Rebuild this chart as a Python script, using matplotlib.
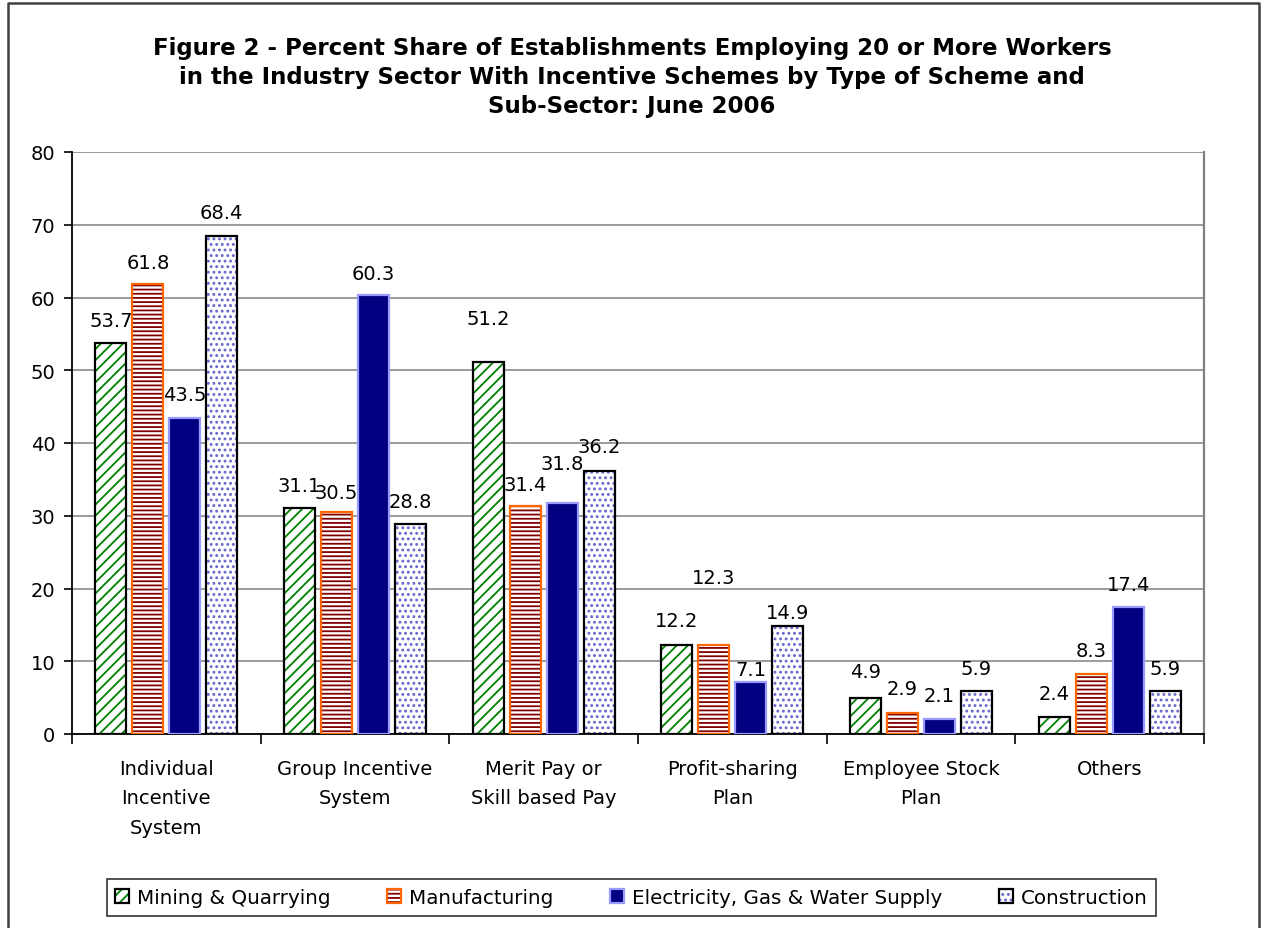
import matplotlib
matplotlib.use('Agg')
import matplotlib.pyplot as plt
import numpy as np
from matplotlib.lines import Line2D
from matplotlib.patches import Patch
from matplotlib.legend_handler import HandlerTuple

W, H = 1264, 929

categories = [
    'Individual\nIncentive\nSystem',
    'Group Incentive\nSystem',
    'Merit Pay or\nSkill based Pay',
    'Profit-sharing\nPlan',
    'Employee Stock\nPlan',
    'Others',
]
series_names = ['Mining & Quarrying', 'Manufacturing',
                'Electricity, Gas & Water Supply', 'Construction']
mining = [53.7, 31.1, 51.2, 12.2, 4.9, 2.4]
manufacturing = [61.8, 30.5, 31.4, 12.3, 2.9, 8.3]
electricity = [43.5, 60.3, 31.8, 7.1, 2.1, 17.4]
construction = [68.4, 28.8, 36.2, 14.9, 5.9, 5.9]
y_ticks = [0, 10, 20, 30, 40, 50, 60, 70, 80]

# label offsets above bar top (pixels), per series, as placed in the original
label_offsets = [
    [23, 22, 43, 25, 27, 23],
    [22, 20, 21, 67, 24, 23],
    [23, 22, 39, 13, 23, 23],
    [24, 23, 24, 13, 23, 23],
]

styles = [
    dict(face='white', hatch='///', hatch_col='#008000', edge='black'),
    dict(face='white', hatch='----', hatch_col='#800000', edge='#FF6600'),
    dict(face='#000080', hatch=None, hatch_col=None, edge='#9999FF'),
    dict(face='white', hatch='...', hatch_col='#6666CC', edge='black'),
]

plt.rcParams['font.family'] = ['DejaVu Sans']
plt.rcParams['hatch.linewidth'] = 1.3

fig = plt.figure(figsize=(W / 100, H / 100), dpi=100)
ax = fig.add_axes([72 / W, 1 - 735 / H, (1204 - 72) / W, (735 - 153) / H])

x = np.arange(len(categories))
step = 0.196
width = 0.164
data = [mining, manufacturing, electricity, construction]

handles = []
for i, (vals, st) in enumerate(zip(data, styles)):
    pos = x + (i - 1.5) * step
    if st['hatch']:
        ax.bar(pos, vals, width, color=st['face'], edgecolor=st['hatch_col'],
               hatch=st['hatch'], linewidth=0, zorder=3)
        ax.bar(pos, vals, width, fill=False, edgecolor=st['edge'],
               linewidth=1.6, zorder=4)
        h = (Patch(facecolor=st['face'], edgecolor=st['hatch_col'], hatch=st['hatch'], linewidth=0),
             Patch(fill=False, edgecolor=st['edge'], linewidth=1.6))
    else:
        ax.bar(pos, vals, width, color=st['face'], edgecolor=st['edge'],
               linewidth=1.6, zorder=4)
        h = (Patch(facecolor=st['face'], edgecolor=st['edge'], linewidth=1.6),)
    handles.append(h)
    for xp, v, off in zip(pos, vals, label_offsets[i]):
        ax.annotate(f'{v}', xy=(xp, v), xytext=(0, off), textcoords='offset pixels',
                    ha='center', va='center', fontsize=14, zorder=6)

ax.set_xlim(-0.5, len(categories) - 0.5)
ax.set_ylim(0, 80)
ax.set_yticks(y_ticks)
ax.set_yticklabels([str(t) for t in y_ticks], fontsize=14)
ax.yaxis.grid(True, color='#808080', linewidth=1.1, zorder=0)
ax.set_axisbelow(True)

ax.set_xticks(np.arange(len(categories) + 1) - 0.5)
ax.set_xticklabels([])
ax.set_xticks(x, minor=True)
ax.set_xticklabels(categories, minor=True, fontsize=14, linespacing=1.7, va='top')
ax.tick_params(axis='x', which='minor', length=0, pad=18)
ax.tick_params(axis='x', which='major', length=7, width=1.2, direction='out')
ax.tick_params(axis='y', length=6, width=1.2, direction='out', pad=6)

for side in ['left', 'bottom']:
    ax.spines[side].set_color('black')
    ax.spines[side].set_linewidth(1.3)
ax.spines['top'].set_visible(False)
ax.spines['right'].set_color('#808080')
ax.spines['right'].set_linewidth(1.6)

fig.text(0.5, 1 - 37 / H,
         'Figure 2 - Percent Share of Establishments Employing 20 or More Workers\n'
         'in the Industry Sector With Incentive Schemes by Type of Scheme and\n'
         'Sub-Sector: June 2006',
         ha='center', va='top', fontsize=16.5, fontweight='bold', linespacing=1.34,
         transform=fig.transFigure)

leg = fig.legend(handles, series_names, loc='center',
                 bbox_to_anchor=(631.5 / W, 1 - 898.5 / H),
                 ncol=4, fontsize=14.3, frameon=True, fancybox=False,
                 edgecolor='black', handlelength=0.7, handleheight=0.7,
                 handletextpad=0.4, columnspacing=2.85, borderpad=0.45,
                 handler_map={tuple: HandlerTuple(ndivide=1, pad=0)})
leg.get_frame().set_linewidth(1.2)

fig.add_artist(Line2D([8 / W, 8 / W, 1259 / W, 1259 / W],
                      [0, 1 - 4 / H, 1 - 4 / H, 0],
                      transform=fig.transFigure, color='#404040', linewidth=1.8))

fig.savefig('out.png', dpi=100)
